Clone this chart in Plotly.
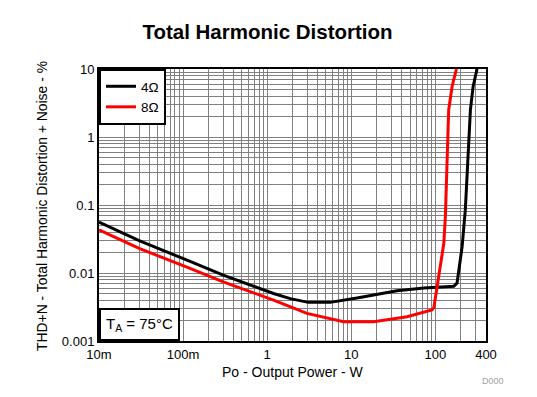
import plotly.graph_objects as go
import numpy as np

# 4 ohm data
p4 = [0.01, 0.03, 0.121, 0.30, 1.19, 1.88, 3.08, 5.6, 11.7, 35, 73, 166, 181, 208, 227, 243, 261, 281, 313]
thd4 = [0.056, 0.030, 0.0148, 0.0093, 0.0050, 0.0042, 0.0037, 0.0037, 0.0043, 0.0055, 0.0060, 0.0064, 0.0071, 0.0244, 0.084, 0.46, 2.5, 5.5, 10]
# 8 ohm data
p8 = [0.01, 0.03, 0.121, 0.30, 1.19, 2.97, 8.1, 18.5, 46, 91, 96, 126, 131.5, 137, 144, 158, 178]
thd8 = [0.043, 0.023, 0.0117, 0.0074, 0.0040, 0.00255, 0.00192, 0.00192, 0.00228, 0.00286, 0.0031, 0.0273, 0.067, 0.46, 2.5, 5.5, 10]

xtickvals = [0.01, 0.1, 1, 10, 100, 400]
xticktext = ["10m", "100m", "1", "10", "100", "400"]
ytickvals = [0.001, 0.01, 0.1, 1, 10]
yticktext = ["0.001", "0.01", "0.1", "1", "10"]

def minor_vals(lo, hi):
    vals = []
    for e in range(lo, hi + 1):
        for m in range(1, 10):
            vals.append(m * 10 ** e)
    return vals

xminor = [v for v in minor_vals(-2, 2) if 0.01 <= v <= 400]
yminor = [v for v in minor_vals(-3, 0) if 0.001 <= v <= 10]

# page has an 8px body margin; figure is sized/positioned to compensate
W, H = 529, 389
PW, PH = 387, 272

fig = go.Figure()
fig.add_trace(go.Scatter(x=p4, y=thd4, mode="lines", name="4Ω",
                         line=dict(color="black", width=3)))
fig.add_trace(go.Scatter(x=p8, y=thd8, mode="lines", name="8Ω",
                         line=dict(color="red", width=3)))

font = "Liberation Sans, Arial, sans-serif"
fig.update_layout(
    width=W, height=H,
    margin=dict(l=91, r=51, t=61, b=56, autoexpand=False),
    paper_bgcolor="white", plot_bgcolor="white",
    font=dict(family=font, size=13, color="black"),
    title=dict(text="<b>Total Harmonic Distortion</b>", x=259.5 / W, xanchor="center",
               xref="container", y=1 - 24 / H, yref="container", yanchor="middle",
               font=dict(size=20.5, family=font)),
    showlegend=True,
    legend=dict(x=0, y=1, xanchor="left", yanchor="top", bgcolor="white",
                bordercolor="black", borderwidth=2, font=dict(size=13.5),
                tracegroupgap=0, itemwidth=30),
)
fig.update_xaxes(type="log", range=[-2, np.log10(400)], automargin=False,
                 tickvals=xtickvals, ticktext=xticktext,
                 showgrid=True, gridcolor="#808080", gridwidth=0.6,
                 minor=dict(tickvals=xminor, showgrid=True, gridcolor="#808080", gridwidth=0.6),
                 showline=True, linecolor="black", linewidth=2, mirror=True,
                 ticks="", zeroline=False, tickfont=dict(size=13))
fig.update_yaxes(type="log", range=[-3, 1], automargin=False,
                 tickvals=ytickvals, ticktext=yticktext,
                 showgrid=True, gridcolor="#808080", gridwidth=0.6,
                 minor=dict(tickvals=yminor, showgrid=True, gridcolor="#808080", gridwidth=0.6),
                 showline=True, linecolor="black", linewidth=2, mirror=True,
                 ticks="", zeroline=False, tickfont=dict(size=13))

# axis titles
fig.add_annotation(xref="paper", yref="paper", x=0.5, y=-(372 - 341) / PH, xanchor="center", yanchor="middle",
                   text="Po - Output Power - W", showarrow=False, font=dict(size=14))
fig.add_annotation(xref="paper", yref="paper", x=-(99 - 42) / PW, y=(341 - 206) / PH, xanchor="center", yanchor="middle",
                   text="THD+N - Total Harmonic Distortion + Noise - %", textangle=-90,
                   showarrow=False, font=dict(size=13.9))

fig.add_annotation(xref="paper", yref="paper", x=0, y=0, xanchor="left", yanchor="bottom",
                   text="T<sub>A</sub> = 75°C", showarrow=False, bgcolor="white",
                   bordercolor="black", borderwidth=2, borderpad=5, font=dict(size=15))
fig.add_annotation(xref="paper", yref="paper", x=(493 - 99) / PW, y=-(381 - 341) / PH,
                   xanchor="center", yanchor="middle",
                   text="D000", showarrow=False, font=dict(size=9, color="#a0a0a0"))

fig.write_html("out.html")
